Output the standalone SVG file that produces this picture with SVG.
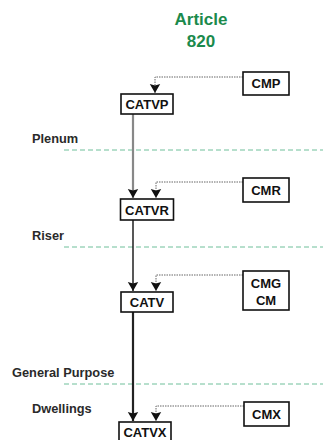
<svg xmlns="http://www.w3.org/2000/svg" width="323" height="440" viewBox="0 0 323 440">
<style>
.bg{fill:#ffffff}
.title{font-family:"Liberation Sans",Arial,sans-serif;font-weight:bold;font-size:17px;fill:#1b8a4c;text-anchor:middle}
.lbl{font-family:"Liberation Sans",Arial,sans-serif;font-weight:bold;font-size:12.8px;fill:#2a2a2a}
.box{fill:#ffffff;stroke:#111111;stroke-width:1.6}
.nt{font-family:"Liberation Sans",Arial,sans-serif;font-weight:bold;font-size:13px;fill:#111111;text-anchor:middle}
.dash{stroke:#6fbf9a;stroke-width:1;stroke-dasharray:5 3;fill:none}
.dot{stroke:#666666;stroke-width:1;stroke-dasharray:1.5 1;fill:none}
.main{fill:none}
</style>
<defs>
<marker id="ah" markerUnits="userSpaceOnUse" markerWidth="12" markerHeight="12" viewBox="-10 -6 12 12" refX="0" refY="0" orient="auto">
<path d="M0,0 L-9,-5.2 L-7.5,0 L-9,5.2 Z" fill="#111111"/>
</marker>
</defs>
<rect class="bg" x="0" y="0" width="323" height="440"/>
<text class="title" x="201" y="25">Article</text>
<text class="title" x="201" y="47">820</text>
<g id="zones">
<text class="lbl" x="32" y="143">Plenum</text>
<line class="dash" x1="64" y1="150" x2="323" y2="150"/>
<text class="lbl" x="32" y="240">Riser</text>
<line class="dash" x1="64" y1="247" x2="323" y2="247"/>
<text class="lbl" x="12" y="377">General Purpose</text>
<line class="dash" x1="64" y1="384" x2="323" y2="384"/>
<text class="lbl" x="32" y="413">Dwellings</text>
</g>
<g id="connectors">
<path class="main" stroke="#888888" stroke-width="2.2" d="M133,114 V198" marker-end="url(#ah)"/>
<path class="main" stroke="#111111" stroke-width="1.4" d="M133,220 V291" marker-end="url(#ah)"/>
<path class="main" stroke="#222222" stroke-width="2.2" d="M133,312 V421" marker-end="url(#ah)"/>
<path class="dot" d="M243,77 H155 V93" marker-end="url(#ah)"/>
<path class="dot" d="M243,182 H156 V198" marker-end="url(#ah)"/>
<path class="dot" d="M243,275 H156 V291" marker-end="url(#ah)"/>
<path class="dot" d="M244,406 H156 V421" marker-end="url(#ah)"/>
</g>
<g id="CATVP"><rect class="box" x="121" y="94" width="52" height="20"/><text class="nt" x="147" y="109">CATVP</text></g>
<g id="CATVR"><rect class="box" x="120.5" y="199" width="53" height="21"/><text class="nt" x="147" y="214.5">CATVR</text></g>
<g id="CATV"><rect class="box" x="121" y="292" width="52" height="20"/><text class="nt" x="147" y="307">CATV</text></g>
<g id="CATVX"><rect class="box" x="119" y="422" width="52" height="20"/><text class="nt" x="145" y="437">CATVX</text></g>
<g id="CMP"><rect class="box" x="243" y="72" width="46" height="23"/><text class="nt" x="266" y="88">CMP</text></g>
<g id="CMR"><rect class="box" x="243" y="178" width="46" height="24"/><text class="nt" x="266" y="194.5">CMR</text></g>
<g id="CMG"><rect class="box" x="243" y="271" width="46" height="39"/><text class="nt" x="266" y="288">CMG</text><text class="nt" x="266" y="305">CM</text></g>
<g id="CMX"><rect class="box" x="244" y="402" width="45" height="24"/><text class="nt" x="266.5" y="418.5">CMX</text></g>
</svg>
